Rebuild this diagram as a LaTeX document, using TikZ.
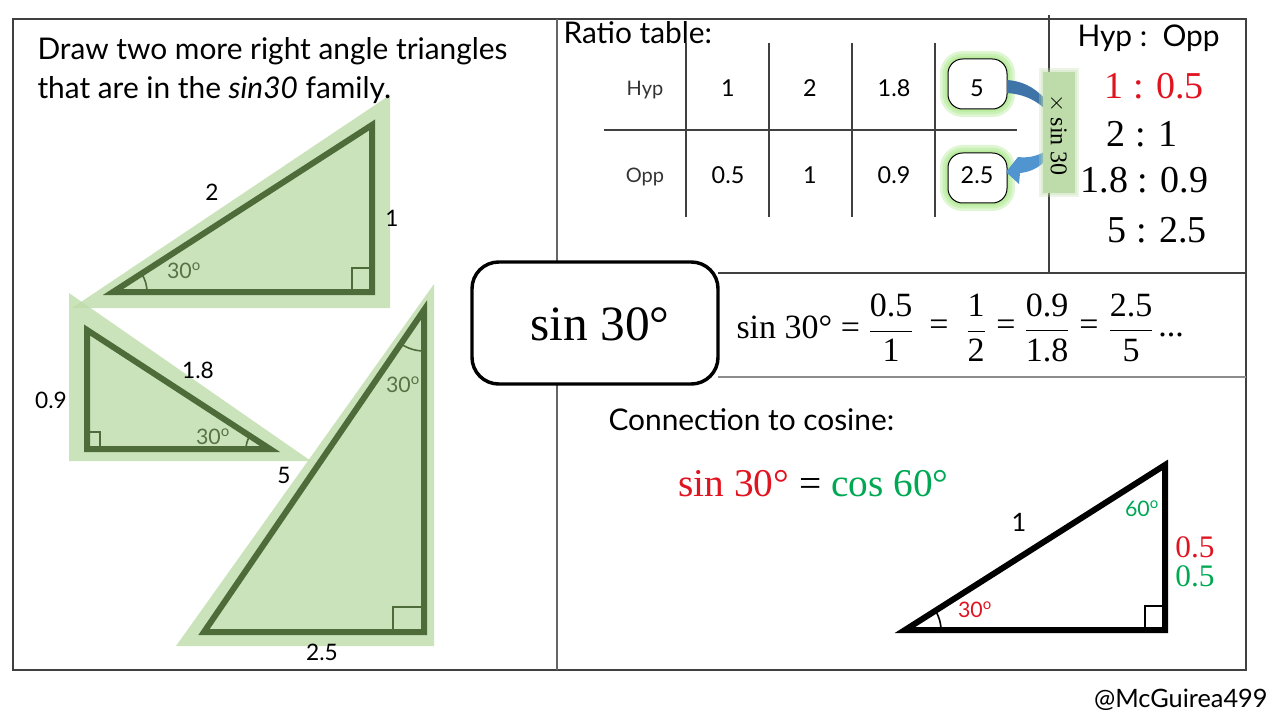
\documentclass[tikz,border=0pt]{standalone}
\usepackage{fontspec}
\setmainfont{Lato}
\newfontfamily\eqfont{Liberation Serif}
\definecolor{glowgreen}{RGB}{190,220,170}
\definecolor{darkgreen}{RGB}{78,107,58}
\definecolor{haloedge}{RGB}{150,225,110}
\definecolor{eqred}{RGB}{224,20,32}
\definecolor{eqgreen}{RGB}{0,168,84}
\definecolor{arrowdark}{RGB}{62,116,168}
\definecolor{arrowlight}{RGB}{80,148,208}
\newcommand{\sz}[1]{\fontsize{#1}{#1}\selectfont}
\newcommand{\ratiofrac}[2]{$\displaystyle\frac{\hbox{#1}}{\hbox{#2}}$}
\tikzset{every picture/.style={line width=0.75pt},
  rule/.style={draw=black!75,line width=0.8pt},
  glow/.style={fill=glowgreen,fill opacity=0.8},
  greenside/.style={draw=darkgreen,line width=4.5pt,miter limit=10},
  blackside/.style={draw=black,line width=4.5pt,miter limit=10},
  thinmark/.style={line width=0.8pt},
  lbl/.style={inner sep=0pt,font=\sz{17}},
  deg/.style={inner sep=0pt,font=\sz{16},text=darkgreen!95!white},
  cell/.style={inner sep=0pt,font=\sz{17.5}},
  head/.style={inner sep=0pt,font=\sz{15},text=black!80},
  prompt/.style={inner sep=0pt,anchor=base west,font=\sz{22.4}},
  ratio/.style={inner sep=0pt,anchor=base west,font=\eqfont\sz{28.5}},
  eq/.style={inner sep=0pt,font=\eqfont\sz{25.5}}
}
\begin{document}
\begin{tikzpicture}[x=0.75pt,y=0.75pt,yscale=-1,xscale=1]
\useasboundingbox (0,0) rectangle (1280,720);

%frame and panels
\draw [rule] (13,19) rectangle (1246,670);
\draw [rule,black!60] (557,19) -- (557,670);
\draw [rule] (1049,15) -- (1049,273);
\draw [rule] (718,273) -- (1246,273);
\draw [rule,black!45] (718,377) -- (1246,377);

%table lines
\draw [rule] (604,130) -- (1017,130);
\foreach \x in {686,769,852,935} \draw [rule] (\x,43) -- (\x,217);

%green triangles
\fill [glow] (72,308) -- (390,95) -- (390,308) -- cycle;
\fill [glow] (69,293) -- (311,461) -- (69,461) -- cycle;
\fill [glow] (434,284) -- (434,646) -- (176,646) -- cycle;
\draw [greenside] (113,292) -- (372,125) -- (372,292) -- cycle;
\draw [greenside] (87,330) -- (270,449) -- (87,449) -- cycle;
\draw [greenside] (424,310) -- (424,632) -- (204,632) -- cycle;
\draw [thinmark,darkgreen] (352,292) |- (372,268);
\draw [thinmark,darkgreen] (87,432) -| (100,449);
\draw [thinmark,darkgreen] (393,632) |- (424,607);
\draw [darkgreen,line width=1.2pt] (147,292) arc (0:-32:34);
\draw [darkgreen,line width=1.2pt] (246,449) arc (180:213:24);
\draw [darkgreen,line width=1.2pt] (424,351) arc (90:124:41);

%black triangle
\draw [blackside] (905,630) -- (1165,465) -- (1165,630) -- cycle;
\draw [thinmark] (1145,630) |- (1165,606);
\draw [line width=1.2pt] (941,630) arc (0:-32:36);

%result boxes
\foreach \w in {12,8,4} {
  \draw [haloedge,opacity=0.3,line width=\w,rounded corners=11] (948,59) rectangle (1007,109);
  \draw [haloedge,opacity=0.3,line width=\w,rounded corners=11] (948,153) rectangle (1007,203);
}
\draw [fill=white,rounded corners=11] (948,59) rectangle (1007,109);
\draw [fill=white,rounded corners=11] (948,153) rectangle (1007,203);

%arrows
\fill [arrowdark] (1007,80) .. controls (1022,81) and (1034,87) .. (1044,98) -- (1044,108) .. controls (1034,99) and (1022,94) .. (1007,93) -- cycle;
\fill [arrowlight] (1044,152) .. controls (1035,157) and (1026,158) .. (1018,157) -- (1006,172) -- (1019,184) -- (1020,173) .. controls (1030,172) and (1038,168) .. (1044,162) -- cycle;

%multiplier strip
\foreach \w in {6,3} \draw [glowgreen,opacity=0.3,line width=\w] (1043,72) rectangle (1075,193);
\fill [glowgreen] (1043,72) rectangle (1075,193);
\node [rotate=-90,inner sep=0pt,font=\eqfont\sz{18}] (multiplier) at (1058,135) {$\times$ sin 30};

%main box
\draw [fill=white,line width=2.6pt,rounded corners=20] (472,262) rectangle (718,384);
\node [inner sep=0pt,anchor=base,font=\eqfont\sz{37}] (maintitle) at (600,340) {sin 30°};

%prompt text
\node [prompt] (promptone) at (37,60) {Draw two more right angle triangles};
\node [prompt] (prompttwo) at (37,99) {that are in the \textit{sin30} family.};
\node [prompt] (ratiotitle) at (563,44) {Ratio table:};
\node [prompt] (hypopp) at (1077,47) {Hyp :\ \ Opp};
\node [prompt] (cosinetitle) at (608,430) {Connection to cosine:};

%table values
\node [head] (hyphead) at (645,90) {Hyp};
\node [head] (opphead) at (645,177) {Opp};
\foreach \name/\x/\hypval/\oppval in {a/728/1/0.5,b/810/2/1,c/894/1.8/0.9,d/977/5/2.5} {
  \node [cell] (hyp\name) at (\x,88) {\hypval};
  \node [cell] (opp\name) at (\x,175) {\oppval};
}

%ratio list
\node [ratio,text=eqred] (ratioone) at (1104,99) {1 : 0.5};
\node [ratio] (ratiotwo) at (1106,147) {2 : 1};
\node [ratio] (ratiothree) at (1080,193) {1.8 : 0.9};
\node [ratio] (ratiofour) at (1107,243) {5 : 2.5};

%equation
\node [eq,anchor=base west] (eqsin) at (736,338) {sin 30° =};
\node [eq] (eqa) at (891,328) {\ratiofrac{0.5}{1}};
\node [eq] (eqb) at (939,328) {=};
\node [eq] (eqc) at (976,328) {\ratiofrac{1}{2}};
\node [eq] (eqd) at (1006,328) {=};
\node [eq] (eqe) at (1047,328) {\ratiofrac{0.9}{1.8}};
\node [eq] (eqf) at (1089,328) {=};
\node [eq] (eqg) at (1131,328) {\ratiofrac{2.5}{5}};
\node [eq] (eqh) at (1171,335) {...};
\node [inner sep=0pt,anchor=base west,font=\eqfont\sz{29.5}] (cosineline) at (678,496) {\textcolor{eqred}{sin 30°} = \textcolor{eqgreen}{cos 60°}};

%triangle labels
\node [lbl] (sidea) at (212,192) {2};
\node [lbl] (sideb) at (392,218) {1};
\node [lbl] (sidec) at (198,370) {1.8};
\node [lbl] (sided) at (51,400) {0.9};
\node [lbl] (sidee) at (284,475) {5};
\node [lbl] (sidef) at (322,652) {2.5};
\node [deg] (dega) at (184,271) {30\textsuperscript{o}};
\node [deg] (degb) at (213,437) {30\textsuperscript{o}};
\node [deg] (degc) at (403,385) {30\textsuperscript{o}};
\node [lbl,font=\sz{19}] (hypunit) at (1019,522) {1};
\node [deg,text=eqgreen] (degd) at (1142,509) {60\textsuperscript{o}};
\node [deg,text=eqred] (dege) at (975,610) {30\textsuperscript{o}};
\node [eq,text=eqred,font=\eqfont\sz{23.5}] (oppred) at (1195,547) {0.5};
\node [eq,text=eqgreen,font=\eqfont\sz{23.5}] (oppgreen) at (1195,576) {0.5};

\node [inner sep=0pt,anchor=base east,font=\sz{19}] (handle) at (1268,707) {@McGuirea499};

\end{tikzpicture}
\end{document}
